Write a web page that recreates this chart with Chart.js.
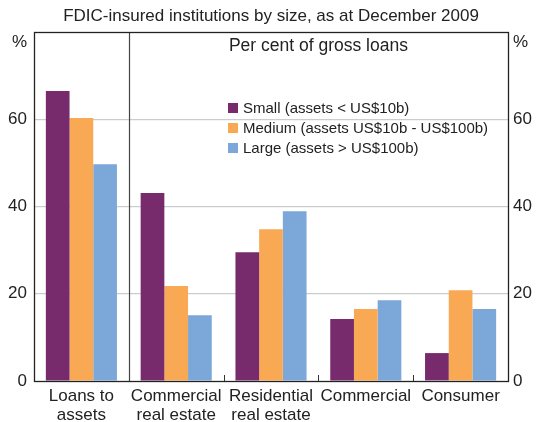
<!DOCTYPE html>
<html>
<head>
<meta charset="utf-8">
<script src="https://cdn.jsdelivr.net/npm/chart.js@4"></script>
<style>
  html, body { margin: 0; padding: 0; background: #fff; }
  #wrap { width: 542px; height: 422px; }
</style>
</head>
<body>
<div id="wrap"><canvas id="c" width="542" height="422"></canvas></div>
<script>
const categories = [['Loans to', 'assets'], ['Commercial', 'real estate'], ['Residential', 'real estate'], ['Commercial'], ['Consumer']];
const seriesNames = ['Small (assets < US$10b)', 'Medium (assets US$10b - US$100b)', 'Large (assets > US$100b)'];
const small = [66.5, 43.1, 29.5, 14.2, 6.4];
const medium = [60.3, 21.8, 34.8, 16.5, 20.8];
const large = [49.7, 15.1, 38.9, 18.5, 16.5];
const yTicks = [0, 20, 40, 60, 80];

const colours = ['#772a6c', '#f9a954', '#7ba7d9'];
const FONT = '"Liberation Sans", Arial, sans-serif';

const decor = {
  id: 'decor',
  beforeDraw(chart) {
    const { ctx } = chart;
    ctx.save();
    ctx.fillStyle = '#fff';
    ctx.fillRect(0, 0, chart.width, chart.height);
    ctx.restore();
  },
  afterDatasetsDraw(chart) {
    const { ctx, chartArea: a } = chart;
    ctx.save();
    // divider between first category and the rest
    const step = (a.right - a.left) / categories.length;
    ctx.strokeStyle = '#444';
    ctx.lineWidth = 1.2;
    ctx.beginPath();
    ctx.moveTo(Math.round(a.left + step) + 0.5, a.top);
    ctx.lineTo(Math.round(a.left + step) + 0.5, a.bottom);
    ctx.stroke();
    // small tick marks at other category boundaries
    ctx.strokeStyle = '#333';
    ctx.lineWidth = 1;
    for (let i = 2; i < categories.length; i++) {
      const px = Math.round(a.left + step * i) + 0.5;
      ctx.beginPath();
      ctx.moveTo(px, a.bottom);
      ctx.lineTo(px, a.bottom - 6);
      ctx.stroke();
    }
    // plot border
    ctx.strokeStyle = '#222';
    ctx.lineWidth = 1.3;
    ctx.strokeRect(Math.round(a.left) + 0.5, Math.round(a.top) + 0.5, Math.round(a.right - a.left), Math.round(a.bottom - a.top));

    // title and texts
    ctx.fillStyle = '#222';
    ctx.textBaseline = 'middle';
    ctx.textAlign = 'center';
    ctx.font = '17px ' + FONT;
    ctx.fillText('FDIC-insured institutions by size, as at December 2009', chart.width / 2, 16);
    ctx.font = '17.5px ' + FONT;
    ctx.fillText('Per cent of gross loans', (a.left + step + a.right) / 2, 46);
    ctx.font = '17px ' + FONT;
    ctx.textAlign = 'right';
    ctx.fillText('%', 27, 42);
    ctx.textAlign = 'left';
    ctx.fillText('%', 513, 42);

    // legend
    ctx.font = '15px ' + FONT;
    chart.data.datasets.forEach((ds, i) => {
      const ly = 108 + i * 20;
      ctx.fillStyle = ds.backgroundColor;
      ctx.fillRect(228, ly - 5, 10, 10);
      ctx.fillStyle = '#222';
      ctx.fillText(ds.label, 243, ly + 1);
    });
    ctx.restore();
  }
};

new Chart(document.getElementById('c'), {
  type: 'bar',
  data: {
    labels: categories,
    datasets: [
      { label: seriesNames[0], data: small, backgroundColor: colours[0] },
      { label: seriesNames[1], data: medium, backgroundColor: colours[1] },
      { label: seriesNames[2], data: large, backgroundColor: colours[2] },
    ],
  },
  options: {
    responsive: false,
    animation: false,
    devicePixelRatio: 1,
    layout: { padding: { top: 32, left: 0, right: 0, bottom: 0 } },
    datasets: { bar: { categoryPercentage: 0.75, barPercentage: 1, borderWidth: 0 } },
    plugins: { legend: { display: false }, tooltip: { enabled: false }, title: { display: false } },
    scales: {
      x: {
        grid: { display: false, drawTicks: false },
        border: { display: false },
        ticks: { color: '#222', font: { family: FONT, size: 17, lineHeight: 1.1 }, padding: 6, maxRotation: 0, autoSkip: false },
        afterFit(s) { s.height = 41; },
      },
      y: {
        position: 'left',
        min: 0, max: 80,
        afterBuildTicks(s) { s.ticks = yTicks.map(v => ({ value: v })); },
        grid: {
          color: c => (c.tick && (c.tick.value === 0 || c.tick.value === 80)) ? 'rgba(0,0,0,0)' : '#c9cdcf',
          lineWidth: 1.2,
          drawTicks: false,
        },
        border: { display: false },
        ticks: {
          color: '#222', font: { family: FONT, size: 17 }, padding: 7,
          callback: v => v === 80 ? '' : v,
        },
        afterFit(s) { s.width = 34; },
      },
      y2: {
        position: 'right',
        min: 0, max: 80,
        afterBuildTicks(s) { s.ticks = yTicks.map(v => ({ value: v })); },
        grid: { display: false, drawTicks: false },
        border: { display: false },
        ticks: {
          color: '#222', font: { family: FONT, size: 17 }, padding: 5,
          callback: v => v === 80 ? '' : v,
        },
        afterFit(s) { s.width = 34; },
      },
    },
  },
  plugins: [decor],
});
</script>
</body>
</html>
